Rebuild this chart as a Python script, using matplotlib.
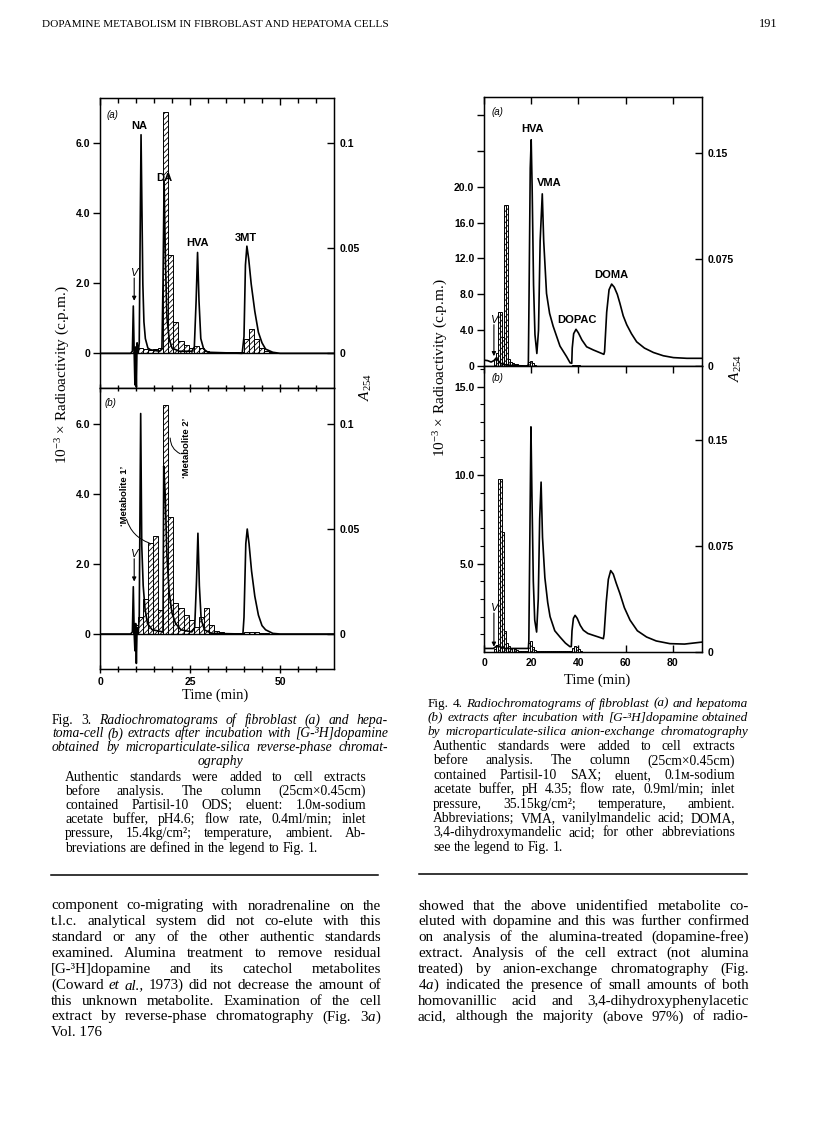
import matplotlib
matplotlib.use('Agg')
import matplotlib.pyplot as plt
from matplotlib.lines import Line2D

# ---------------- data (read from the scanned page) ----------------
# Fig. 3 : fraction start times (min) and radioactivity (10^-3 c.p.m.)
fig3_fraction_start = [9.2, 10.6, 12.0, 13.4, 14.8, 16.2, 17.6, 19.0, 20.4, 21.8, 23.2, 24.6, 26.0, 27.4,
                       28.8, 30.2, 31.6, 33.0, 34.4, 35.8, 37.2, 38.6, 40.0, 41.4, 42.8, 44.2, 45.6, 47.0]
fig3_fraction_width = 1.4
fig3a_counts = [0.05, 0.15, 0.12, 0.1, 0.12, 0.15, 6.9, 2.8, 0.9, 0.35, 0.25, 0.15, 0.2, 0.15,
                0.08, 0.05, 0.03, 0.03, 0.03, 0.03, 0.03, 0.03, 0.42, 0.7, 0.4, 0.15, 0.08, 0.03]
fig3b_counts = [0.25, 0.5, 1.0, 2.6, 2.8, 0.7, 6.55, 3.35, 0.9, 0.75, 0.55, 0.4, 0.2, 0.5,
                0.75, 0.25, 0.1, 0.05, 0.03, 0.03, 0.03, 0.03, 0.05, 0.05, 0.05, 0.03, 0.02, 0.01]

# Fig. 3 : A254 traces
fig3a_time = [0, 8.5, 9.0, 9.25, 9.5, 9.7, 9.9, 10.1, 10.3, 10.6, 10.9, 11.4, 11.9, 12.2, 12.6, 13.3,
              14.0, 16.5, 17.2, 17.5, 17.8, 18.2, 18.6, 19.2, 20.0, 22.0, 25.5, 26.2, 26.7, 27.1, 27.5,
              28.0, 28.8, 30.0, 39.5, 40.0, 40.4, 40.8, 41.3, 42.0, 43.0, 44.0, 45.0, 46.0, 48.0, 50.0, 65.0]
fig3a_a254 = [0, 0, 0.001, 0.0225, 0, -0.015, 0.003, -0.016, 0.005, 0, 0.005, 0.104, 0.033, 0.015, 0.007,
              0.0025, 0.0017, 0.001, 0.002, 0.033, 0.082, 0.042, 0.017, 0.007, 0.0025, 0.001, 0.001, 0.003,
              0.025, 0.048, 0.025, 0.007, 0.002, 0.0005, 0, 0.008, 0.042, 0.051, 0.045, 0.033, 0.02, 0.01,
              0.005, 0.002, 0.0005, 0, 0]
fig3b_time = [0, 8.5, 9.0, 9.25, 9.5, 9.7, 9.9, 10.1, 10.3, 10.6, 10.9, 11.3, 11.6, 12.0, 12.5, 13.2,
              14.5, 17.5, 17.7, 18.1, 18.6, 19.2, 20.0, 21.0, 22.5, 25.5, 26.3, 26.8, 27.2, 27.6, 28.1,
              29.0, 31.0, 39.7, 40.0, 40.5, 40.9, 41.4, 42.1, 43.0, 44.0, 45.0, 46.0, 48.0, 50.0, 65.0]
fig3b_a254 = [0, 0, 0.001, 0.0225, 0, -0.008, 0.005, -0.014, 0.003, 0, 0.008, 0.105, 0.042, 0.023, 0.012,
              0.005, 0.002, 0.001, 0.080, 0.067, 0.037, 0.020, 0.010, 0.005, 0.002, 0.001, 0.003, 0.025,
              0.048, 0.023, 0.007, 0.002, 0.0003, 0, 0.008, 0.043, 0.050, 0.043, 0.030, 0.018, 0.009,
              0.004, 0.002, 0.0003, 0, 0]

# Fig. 4 : fraction start times (min) and radioactivity (10^-3 c.p.m.)
fig4_fraction_start = [4.30, 5.15, 6.00, 6.85, 7.70, 8.55, 9.40, 10.25, 11.10, 11.95, 12.80, 13.65, 14.50,
                       15.35, 16.20, 17.05, 17.90, 18.75, 19.60, 20.45, 21.30, 22.15, 23.00, 23.85, 24.70,
                       25.55, 26.40, 27.25, 28.10, 28.95, 29.80, 30.65, 31.50, 32.35, 33.20, 34.05, 34.90,
                       35.75, 36.60, 37.45, 38.30, 39.15, 40.00, 40.85, 41.70]
fig4_fraction_width = 0.85
fig4a_counts = [0.8, 1.5, 6.0, 6.0, 3.2, 18.0, 18.0, 0.8, 0.5, 0.35, 0.25, 0.2, 0.15, 0.1, 0.05, 0.05,
                0.1, 0.4, 0.55, 0.3, 0.1, 0.05, 0.03, 0.03, 0.03, 0.03, 0.03, 0.03, 0.03, 0.03, 0.03,
                0.03, 0.03, 0.03, 0.03, 0.03, 0.03, 0.03, 0.05, 0.1, 0.15, 0.12, 0.06, 0.03, 0.02]
fig4b_counts = [0.15, 0.4, 9.8, 9.8, 6.8, 1.2, 0.5, 0.35, 0.25, 0.2, 0.15, 0.1, 0.08, 0.05, 0.03, 0.03,
                0.03, 0.5, 0.6, 0.3, 0.1, 0.05, 0.03, 0.03, 0.03, 0.03, 0.03, 0.03, 0.03, 0.03, 0.03,
                0.03, 0.03, 0.03, 0.03, 0.03, 0.03, 0.03, 0.05, 0.2, 0.35, 0.3, 0.15, 0.05, 0.02]

# Fig. 4 : A254 traces
fig4a_time = [0, 1.5, 3.0, 4.2, 5.2, 6.0, 7.0, 9.0, 12.0, 18.6, 18.8, 19.1, 19.6, 20.0, 20.4, 21.0, 21.6,
              22.4, 23.1, 23.8, 24.7, 25.3, 26.5, 27.8, 29.3, 32.2, 35.0, 36.5, 37.2, 37.4, 38.0, 39.0,
              40.0, 41.5, 43.5, 46.3, 50.8, 51.1, 52.0, 53.0, 54.1, 55.2, 56.5, 57.6, 59.0, 60.5, 62.5,
              64.7, 68.0, 71.8, 76.0, 80.3, 86.0, 92.4]
fig4a_a254 = [0.0041, 0.0038, 0.0028, 0.0038, 0.0057, 0.0038, 0.0019, 0.0009, 0.0003, 0.0, 0.0019, 0.050,
              0.139, 0.159, 0.126, 0.057, 0.022, 0.0088, 0.025, 0.088, 0.121, 0.088, 0.051, 0.037, 0.028,
              0.014, 0.0066, 0.0022, 0.0019, 0.0126, 0.0227, 0.0258, 0.0233, 0.0183, 0.0135, 0.0113,
              0.0082, 0.0101, 0.0378, 0.0536, 0.0576, 0.0554, 0.0504, 0.0441, 0.0353, 0.029, 0.0227,
              0.017, 0.0126, 0.0095, 0.0072, 0.0059, 0.0054, 0.0054]
fig4b_time = [0, 4.0, 5.5, 6.5, 9.0, 18.8, 19.0, 19.4, 19.9, 20.3, 20.9, 21.5, 22.3, 23.0, 23.6, 24.2,
              24.8, 25.8, 27.0, 28.0, 30.0, 32.2, 34.5, 36.4, 37.0, 37.3, 37.9, 38.6, 39.5, 40.8, 42.1,
              44.0, 46.3, 48.5, 50.6, 50.9, 51.8, 52.7, 53.7, 54.8, 56.0, 57.6, 59.5, 61.9, 65.0, 68.9,
              73.0, 78.8, 85.0, 92.4]
fig4b_a254 = [0.0025, 0.0025, 0.0044, 0.0038, 0.0025, 0.0025, 0.0075, 0.075, 0.159, 0.1125, 0.05, 0.0225,
              0.0141, 0.0375, 0.094, 0.12, 0.081, 0.0525, 0.035, 0.025, 0.015, 0.0106, 0.0063, 0.0038,
              0.0038, 0.015, 0.0238, 0.0259, 0.0238, 0.0188, 0.0154, 0.0131, 0.0118, 0.0106, 0.0094,
              0.0125, 0.035, 0.0513, 0.0575, 0.055, 0.0488, 0.0413, 0.0313, 0.0225, 0.015, 0.0106,
              0.0078, 0.0059, 0.0056, 0.007]

fig3a_peaks = ['NA', 'DA', 'HVA', '3MT']
fig4a_peaks = ['HVA', 'VMA', 'DOPAC', 'DOMA']

header_title = 'DOPAMINE METABOLISM IN FIBROBLAST AND HEPATOMA CELLS'
page_number = '191'
volume = 'Vol. 176'

fig3_caption_italic = ['!Fig. !3. Radiochromatograms of fibroblast (a) and hepa-',
                       'toma-cell (b) extracts after incubation with [G-³H]dopamine',
                       'obtained by microparticulate-silica reverse-phase chromat-']
fig3_caption_center = 'ography'
fig3_caption_roman = ['Authentic standards were added to cell extracts',
                      'before analysis. The column (25cm×0.45cm)',
                      'contained Partisil-10 ODS; eluent: 1.0ᴍ-sodium',
                      'acetate buffer, pH4.6; flow rate, 0.4ml/min; inlet',
                      'pressure, 15.4kg/cm²; temperature, ambient. Ab-',
                      'breviations are defined in the legend to Fig. 1.']
fig4_caption_italic = ['!Fig. !4. Radiochromatograms of fibroblast (a) and hepatoma',
                       '(b) extracts after incubation with [G-³H]dopamine obtained',
                       'by microparticulate-silica anion-exchange chromatography']
fig4_caption_roman = ['Authentic standards were added to cell extracts',
                      'before analysis. The column (25cm×0.45cm)',
                      'contained Partisil-10 SAX; eluent, 0.1ᴍ-sodium',
                      'acetate buffer, pH 4.35; flow rate, 0.9ml/min; inlet',
                      'pressure, 35.15kg/cm²; temperature, ambient.',
                      'Abbreviations; VMA, vanilylmandelic acid; DOMA,',
                      '3,4-dihydroxymandelic acid; for other abbreviations',
                      'see the legend to Fig. 1.']
body_left = ['component co-migrating with noradrenaline on the',
             't.l.c. analytical system did not co-elute with this',
             'standard or any of the other authentic standards',
             'examined. Alumina treatment to remove residual',
             '[G-³H]dopamine and its catechol metabolites',
             '(Coward _et _al., 1973) did not decrease the amount of',
             'this unknown metabolite. Examination of the cell',
             'extract by reverse-phase chromatography (Fig. 3$a$)']
body_right = ['showed that the above unidentified metabolite co-',
              'eluted with dopamine and this was further confirmed',
              'on analysis of the alumina-treated (dopamine-free)',
              'extract. Analysis of the cell extract (not alumina',
              'treated) by anion-exchange chromatography (Fig.',
              '4$a$) indicated the presence of small amounts of both',
              'homovanillic acid and 3,4-dihydroxyphenylacetic',
              'acid, although the majority (above 97%) of radio-']

# ---------------- styling ----------------
W, H = 816, 1136
plt.rcParams['font.family'] = ['Liberation Sans', 'DejaVu Sans']
plt.rcParams['mathtext.fontset'] = 'custom'
plt.rcParams['mathtext.rm'] = 'Liberation Serif'
plt.rcParams['mathtext.it'] = 'Liberation Serif:italic'
plt.rcParams['mathtext.bf'] = 'Liberation Serif:bold'
plt.rcParams['hatch.linewidth'] = 0.6
SERIF = ['Liberation Serif', 'DejaVu Serif', 'DejaVu Sans']
TRACE_LW = 1.2

fig = plt.figure(figsize=(W / 100, H / 100), dpi=100)
fig.patch.set_facecolor('white')
renderer = fig.canvas.get_renderer()


def P(x, y):
    return (x / W, 1 - y / H)


def add_axes(x0, y0, x1, y1):
    return fig.add_axes([x0 / W, 1 - y1 / H, (x1 - x0) / W, (y1 - y0) / H])


def bold_ticks(ax):
    for lab in ax.get_xticklabels() + ax.get_yticklabels():
        lab.set_fontweight('bold')
        lab.set_fontsize(7.5)


def bars(ax, starts, counts, width):
    ax.bar(starts, counts, width=width, align='edge', facecolor='white', edgecolor='black',
           hatch='//////', linewidth=0.7, zorder=2)


def v_marker(ax, x, ytext, ytip):
    ax.annotate('', xy=(x, ytip), xytext=(x, ytext), zorder=6,
                arrowprops=dict(arrowstyle='-|>', lw=0.8, color='k', mutation_scale=6,
                                shrinkA=0, shrinkB=0))
    ax.text(x, ytext, 'V', style='italic', fontsize=8, ha='center', va='bottom', zorder=6)


# ---------------- Fig. 3 ----------------
f3_scale = 0.05 / 3.0   # A254 per 10^-3 c.p.m. on the drawn scale
for panel in ('a', 'b'):
    if panel == 'a':
        ax = add_axes(100, 98, 334, 388)
        ylim = (-0.99, 7.29)
        counts, tt, aa = fig3a_counts, fig3a_time, fig3a_a254
    else:
        ax = add_axes(100, 388, 334, 669)
        ylim = (-1.0, 7.03)
        counts, tt, aa = fig3b_counts, fig3b_time, fig3b_a254
    ax.set_xlim(0, 65)
    ax.set_ylim(*ylim)
    bars(ax, fig3_fraction_start, counts, fig3_fraction_width)
    ax.axhline(0, color='k', lw=1.0, zorder=3)
    ax.set_yticks([0, 2, 4, 6])
    ax.set_yticklabels(['0', '2.0', '4.0', '6.0'])
    ax.tick_params(axis='y', left=True, right=False, direction='out', length=5, width=1, pad=2)
    ax.set_xticks([0, 25, 50])
    ax.set_xticks(list(range(5, 65, 5)), minor=True)
    if panel == 'a':
        ax.tick_params(axis='x', which='both', bottom=False, top=True, labelbottom=False,
                       direction='in', width=1)
        ax.tick_params(axis='x', which='major', length=5)
        ax.tick_params(axis='x', which='minor', length=3.5)
    else:
        ax.tick_params(axis='x', which='both', bottom=True, top=True, labelbottom=True,
                       direction='inout', width=1)
        ax.tick_params(axis='x', which='major', length=6, pad=3)
        ax.tick_params(axis='x', which='minor', length=5)
        ax.set_xticklabels(['0', '25', '50'])
    for s in ax.spines.values():
        s.set_linewidth(1.0)
    axr = ax.twinx()
    axr.set_ylim(ylim[0] * f3_scale, ylim[1] * f3_scale)
    axr.set_yticks([0, 0.05, 0.1])
    axr.set_yticklabels(['0', '0.05', '0.1'])
    axr.tick_params(axis='y', direction='in', length=5, width=1, pad=4)
    axr.plot(tt, aa, color='k', lw=TRACE_LW, zorder=5)
    bold_ticks(ax)
    bold_ticks(axr)
    v_marker(ax, 9.5, 2.15, 1.5)
    if panel == 'a':
        ax.text(3.4, 6.8, '(a)', style='italic', fontsize=7, ha='center', va='center')
        for name, (x, y) in zip(fig3a_peaks, [(10.9, 6.5), (17.9, 5.0), (27.0, 3.16), (40.5, 3.28)]):
            ax.text(x, y, name, fontsize=8, fontweight='bold', ha='center', va='center', zorder=7)
    else:
        ax.text(3.0, 6.6, '(b)', style='italic', fontsize=7, ha='center', va='center')
        ax.text(6.7, 3.95, '‘Metabolite 1’', rotation=90, fontsize=6.8, fontweight='bold',
                ha='center', va='center')
        ax.annotate('', xy=(13.7, 2.6), xytext=(7.35, 3.28),
                    arrowprops=dict(arrowstyle='-', lw=0.7, color='k',
                                    connectionstyle='arc3,rad=0.25', shrinkA=0, shrinkB=0))
        ax.text(23.9, 5.33, '‘Metabolite 2’', rotation=90, fontsize=6.8, fontweight='bold',
                ha='center', va='center')
        ax.annotate('', xy=(19.5, 5.6), xytext=(22.3, 5.15),
                    arrowprops=dict(arrowstyle='-', lw=0.7, color='k',
                                    connectionstyle='arc3,rad=-0.3', shrinkA=0, shrinkB=0))

fig.text(*P(63, 375), r'10$^{-3}$ × Radioactivity (c.p.m.)', rotation=90, family=SERIF,
         fontsize=11, ha='center', va='center')
fig.text(*P(366, 387), r'$A_{254}$', rotation=90, fontsize=11, ha='center', va='center')
fig.text(*P(215, 695), 'Time (min)', family=SERIF, fontsize=10.5, ha='center', va='center')

# ---------------- Fig. 4 ----------------
for panel in ('a', 'b'):
    if panel == 'a':
        ax = add_axes(484, 97, 702, 366)
        ylim = (0, 30.0)
        f4_scale = 0.15 / 23.8
        counts, tt, aa = fig4a_counts, fig4a_time, fig4a_a254
    else:
        ax = add_axes(484, 366, 702, 652)
        ylim = (0, 16.16)
        f4_scale = 0.15 / 12.0
        counts, tt, aa = fig4b_counts, fig4b_time, fig4b_a254
    ax.set_xlim(0, 92.4)
    ax.set_ylim(*ylim)
    bars(ax, fig4_fraction_start, counts, fig4_fraction_width)
    for s in ax.spines.values():
        s.set_linewidth(1.0)
    ax.set_xticks([0, 20, 40, 60, 80])
    if panel == 'a':
        ax.set_yticks([0, 4, 8, 12, 16, 20, 24, 28])
        ax.set_yticklabels(['0', '4.0', '8.0', '12.0', '16.0', '20.0', '', ''])
        ax.tick_params(axis='y', direction='out', length=5, width=1, pad=2)
        ax.tick_params(axis='x', bottom=False, top=True, labelbottom=False, direction='in',
                       length=5, width=1)
    else:
        ax.set_yticks([5, 10, 15])
        ax.set_yticklabels(['5.0', '10.0', '15.0'])
        ax.set_yticks(list(range(1, 17)), minor=True)
        ax.tick_params(axis='y', which='major', direction='out', length=5, width=1, pad=2)
        ax.tick_params(axis='y', which='minor', direction='out', length=3, width=0.8)
        ax.tick_params(axis='x', bottom=True, top=True, labelbottom=True, direction='in',
                       length=5, width=1, pad=4)
        ax.set_xticklabels(['0', '20', '40', '60', '80'])
    axr = ax.twinx()
    axr.set_ylim(ylim[0] * f4_scale, ylim[1] * f4_scale)
    axr.set_yticks([0, 0.075, 0.15])
    axr.set_yticklabels(['0', '0.075', '0.15'])
    axr.tick_params(axis='y', direction='in', length=5, width=1, pad=4)
    axr.plot(tt, aa, color='k', lw=TRACE_LW, zorder=5)
    bold_ticks(ax)
    bold_ticks(axr)
    if panel == 'a':
        ax.text(5.6, 28.3, '(a)', style='italic', fontsize=7, ha='center', va='center')
        for name, (x, y) in zip(fig4a_peaks, [(20.5, 26.4), (27.7, 20.4), (39.3, 5.1), (54.1, 10.1)]):
            ax.text(x, y, name, fontsize=8, fontweight='bold', ha='center', va='center', zorder=7)
        v_marker(ax, 4.2, 4.6, 1.1)
    else:
        ax.text(5.6, 15.5, '(b)', style='italic', fontsize=7, ha='center', va='center')
        v_marker(ax, 4.2, 2.2, 0.3)

fig.text(*P(441, 368), r'10$^{-3}$ × Radioactivity (c.p.m.)', rotation=90, family=SERIF,
         fontsize=11, ha='center', va='center')
fig.text(*P(736, 368), r'$A_{254}$', rotation=90, fontsize=11, ha='center', va='center')
fig.text(*P(597, 680), 'Time (min)', family=SERIF, fontsize=10.5, ha='center', va='center')


# ---------------- page text ----------------
def text_line(s, x0, x1, yc, size, style='normal', mode='justify'):
    words = s.split(' ')
    cur = size
    for _ in range(15):
        arts = []
        for w in words:
            st = style
            if w.startswith('!'):
                st, w = 'normal', w[1:]
            elif w.startswith('_'):
                st, w = 'italic', w[1:]
            arts.append(fig.text(0, 0, w, fontsize=cur, family=SERIF, style=st,
                                 ha='left', va='baseline'))
        widths = [t.get_window_extent(renderer).width for t in arts]
        space = cur * 100 / 72 * 0.25
        total = sum(widths)
        if mode == 'justify' and len(arts) > 1:
            gap = (x1 - x0 - total) / (len(arts) - 1)
            if gap < 0.7 * space:
                for t in arts:
                    t.remove()
                cur *= 0.97
                continue
        else:
            gap = space
        break
    if mode == 'center':
        x = (x0 + x1) / 2 - (total + gap * (len(arts) - 1)) / 2
    else:
        x = x0
    yb = yc + 0.3 * cur * 100 / 72
    for t, wd in zip(arts, widths):
        t.set_position(P(x, yb))
        x += wd + gap


# header (fit to measured width)
t = fig.text(0, 0, header_title, family=SERIF, fontsize=10)
wpx = t.get_window_extent(renderer).width
t.remove()
hsize = 10 * 348 / wpx
fig.text(*P(42, 27), header_title, family=SERIF, fontsize=hsize, ha='left', va='baseline')
fig.text(*P(778, 27), page_number, family=SERIF, fontsize=hsize * 1.1, ha='right', va='baseline')

# Fig. 3 caption
for i, line in enumerate(fig3_caption_italic):
    text_line(line, 52, 388, 720 + 13.4 * i, 9.8, style='italic')
text_line(fig3_caption_center, 52, 388, 760.5, 9.8, style='italic', mode='center')
for i, line in enumerate(fig3_caption_roman):
    mode = 'left' if i == len(fig3_caption_roman) - 1 else 'justify'
    text_line(line, 65, 366, 776.5 + 14.2 * i, 9.8, mode=mode)

# Fig. 4 caption
for i, line in enumerate(fig4_caption_italic):
    text_line(line, 428, 748, 702.7 + 14.0 * i, 9.8, style='italic')
for i, line in enumerate(fig4_caption_roman):
    mode = 'left' if i == len(fig4_caption_roman) - 1 else 'justify'
    text_line(line, 433, 735, 746 + 14.4 * i, 9.8, mode=mode)

# separating rules
fig.add_artist(Line2D([51 / W, 378 / W], [1 - 875 / H] * 2, color='k', lw=1.1))
fig.add_artist(Line2D([419 / W, 747 / W], [1 - 874 / H] * 2, color='k', lw=1.1))

# body text
for i, line in enumerate(body_left):
    text_line(line, 51, 381, 905 + 15.85 * i, 10.8)
for i, line in enumerate(body_right):
    text_line(line, 418, 749, 905 + 15.85 * i, 10.8)

fig.text(*P(51, 1036), volume, family=SERIF, fontsize=10.8, ha='left', va='baseline')

fig.savefig('out.png', dpi=100, facecolor='white')
